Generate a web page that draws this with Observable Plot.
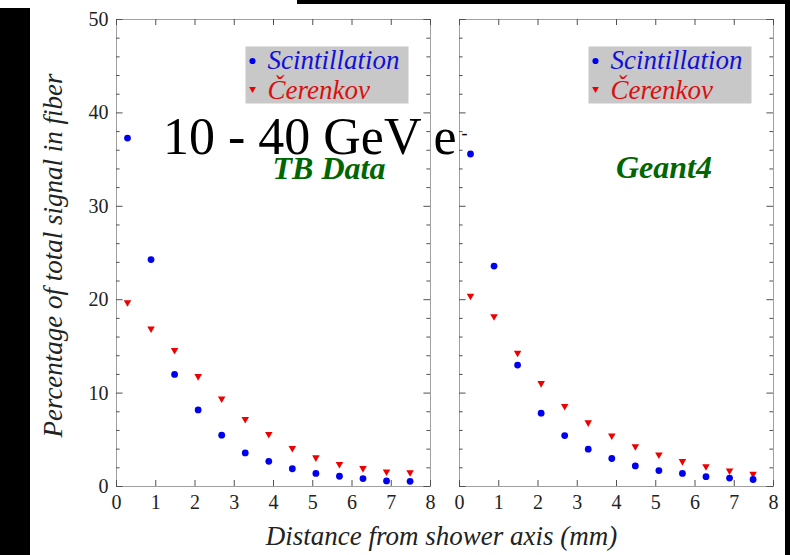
<!DOCTYPE html>
<html><head><meta charset="utf-8">
<script src="https://cdn.jsdelivr.net/npm/d3@7"></script>
<script src="https://cdn.jsdelivr.net/npm/@observablehq/plot@0.6"></script>
<style>
body{margin:0;background:#fff;}
#wrap{position:relative;width:790px;height:555px;overflow:hidden;background:#fff;}
#wrap svg{position:absolute;left:0;top:0;}
.blk{position:absolute;background:#000;}
</style></head><body>
<div id="wrap"></div>
<script>
// ---- data ----
const panels = ["TB Data", "Geant4"];
const seriesNames = ["Scintillation", "Čerenkov"];
const distance = [0.28, 0.88, 1.48, 2.08, 2.68, 3.28, 3.88, 4.48, 5.08, 5.68, 6.28, 6.88, 7.48];
const tbScint  = [37.3, 24.3, 12.0, 8.2, 5.5, 3.6, 2.7, 1.9, 1.4, 1.1, 0.85, 0.6, 0.55];
const tbCer    = [19.7, 16.9, 14.6, 11.8, 9.4, 7.2, 5.6, 4.1, 3.1, 2.4, 1.95, 1.6, 1.5];
const g4Scint  = [35.6, 23.6, 13.0, 7.85, 5.45, 4.0, 3.0, 2.2, 1.7, 1.4, 1.05, 0.9, 0.75];
const g4Cer    = [20.4, 18.2, 14.3, 11.05, 8.6, 6.85, 5.45, 4.3, 3.4, 2.7, 2.15, 1.7, 1.35];
const xTicks = [0, 1, 2, 3, 4, 5, 6, 7, 8];
const yMajor = [0, 10, 20, 30, 40, 50];
const yMinor = [2, 4, 6, 8, 12, 14, 16, 18, 22, 24, 26, 28, 32, 34, 36, 38, 42, 44, 46, 48];
const yLabel = "Percentage of total signal in fiber";
const xLabel = "Distance from shower axis (mm)";
const energyLabel = "10 - 40 GeV e";
const energySup = "-";

// ---- table built from the arrays ----
const rows = [];
[[panels[0], tbScint, tbCer], [panels[1], g4Scint, g4Cer]].forEach(([panel, s, c]) => {
  distance.forEach((d, i) => {
    rows.push({panel, series: seriesNames[0], distance: d, value: s[i]});
    rows.push({panel, series: seriesNames[1], distance: d, value: c[i]});
  });
});
const scintRows = rows.filter(r => r.series === seriesNames[0]);
const cerRows = rows.filter(r => r.series === seriesNames[1]);

// ---- layout ----
const W = 790, H = 555, mL = 115, mR = 17, mT = 19, mB = 69;
const pad = 0.085;
const bw = (W - mL - mR) * (1 - pad) / (2 - pad);
const fh = H - mT - mB;
const serif = '"Liberation Serif", "Times New Roman", "DejaVu Serif", serif';
const BLUE = "#0000f0", RED = "#ee0000", GREEN = "#006600";
const FRAME = "#a0a0a0", TICK = "#505050";

const chart = Plot.plot({
  width: W, height: H,
  marginLeft: mL, marginRight: mR, marginTop: mT, marginBottom: mB,
  style: {fontFamily: serif, background: "white", color: "#222"},
  fx: {domain: panels, paddingInner: pad, paddingOuter: 0, axis: null, label: null},
  x: {domain: [0, 8]},
  y: {domain: [0, 50]},
  marks: [
    // legend boxes
    Plot.frame({fill: "#c8c8c8", stroke: "none", insetLeft: 129, insetTop: 27, insetRight: 22, insetBottom: fh - 84}),
    // frame
    Plot.frame({stroke: FRAME, strokeWidth: 1}),
    // inward ticks: y minor + major, left and right sides
    Plot.ruleY(yMinor, {y: d => d, insetRight: bw - 4, stroke: TICK}),
    Plot.ruleY(yMinor, {y: d => d, insetLeft: bw - 4, stroke: TICK}),
    Plot.ruleY(yMajor, {y: d => d, insetRight: bw - 7, stroke: TICK}),
    Plot.ruleY(yMajor, {y: d => d, insetLeft: bw - 7, stroke: TICK}),
    // x ticks bottom and top
    Plot.ruleX(xTicks, {x: d => d, insetTop: fh - 6, stroke: TICK}),
    Plot.ruleX(xTicks, {x: d => d, insetBottom: fh - 6, stroke: TICK}),
    // axes (labels only)
    Plot.axisY(yMajor, {tickSize: 0, tickPadding: 8, fontSize: 20, label: null, fill: "#222"}),
    Plot.axisX(xTicks, {tickSize: 0, tickPadding: 8, fontSize: 20, label: null, fill: "#222"}),
    // data
    Plot.dot(cerRows, {fx: "panel", x: "distance", y: "value", symbol: "triangle", rotate: 180, r: 2.8, fill: RED, stroke: "none"}),
    Plot.dot(scintRows, {fx: "panel", x: "distance", y: "value", symbol: "circle", r: 3.4, fill: BLUE, stroke: "none"}),
    // legend entries
    Plot.dot([seriesNames[0]], {frameAnchor: "top-left", dx: 136, dy: 41.5, r: 3.1, fill: BLUE, stroke: "none"}),
    Plot.dot([seriesNames[1]], {frameAnchor: "top-left", dx: 136, dy: 69.5, symbol: "triangle", rotate: 180, r: 2.5, fill: RED, stroke: "none"}),
    Plot.text([seriesNames[0]], {frameAnchor: "top-left", dx: 151, dy: 49.5, text: d => d, textAnchor: "start", lineAnchor: "bottom", fontSize: 27, fontStyle: "italic", fill: "#1010d8"}),
    Plot.text([seriesNames[1]], {frameAnchor: "top-left", dx: 151, dy: 79, text: d => d, textAnchor: "start", lineAnchor: "bottom", fontSize: 27, fontStyle: "italic", fill: "#d81010"}),
    // panel titles
    Plot.text([{panel: panels[0]}], {fx: "panel", frameAnchor: "top-left", dx: 212.5, dy: 159, text: "panel", textAnchor: "middle", lineAnchor: "bottom", fontSize: 32, fontWeight: "bold", fontStyle: "italic", fill: GREEN}),
    Plot.text([{panel: panels[1]}], {fx: "panel", frameAnchor: "top-left", dx: 204.5, dy: 158, text: "panel", textAnchor: "middle", lineAnchor: "bottom", fontSize: 32, fontWeight: "bold", fontStyle: "italic", fill: GREEN}),
    // axis titles
    Plot.text([{panel: panels[0]}], {fx: "panel", frameAnchor: "left", dx: -54.5, dy: 2.5, rotate: -90, text: () => yLabel, textAnchor: "middle", lineAnchor: "bottom", fontSize: 27, fontStyle: "italic", fill: "#222"}),
    Plot.text([{panel: panels[0]}], {fx: "panel", frameAnchor: "bottom-right", dx: 11, dy: 58, text: () => xLabel, textAnchor: "middle", lineAnchor: "bottom", fontSize: 27, fontStyle: "italic", fill: "#222"}),
    // energy annotation
    Plot.text([{panel: panels[0]}], {fx: "panel", frameAnchor: "top-left", dx: 46.5, dy: 134, text: () => energyLabel, textAnchor: "start", lineAnchor: "bottom", fontSize: 52, fill: "#000"}),
    Plot.text([{panel: panels[0]}], {fx: "panel", frameAnchor: "top-left", dx: 348, dy: 119.5, text: () => energySup, textAnchor: "middle", lineAnchor: "bottom", fontSize: 18, fill: "#000"})
  ]
});

const wrap = document.getElementById("wrap");
wrap.appendChild(chart);
[[0, 8, 30, 547], [297, 0, 493, 4], [785, 0, 5, 555]].forEach(([l, t, w, h]) => {
  const d = document.createElement("div");
  d.className = "blk";
  d.style.left = l + "px"; d.style.top = t + "px"; d.style.width = w + "px"; d.style.height = h + "px";
  wrap.appendChild(d);
});
</script>
</body></html>
